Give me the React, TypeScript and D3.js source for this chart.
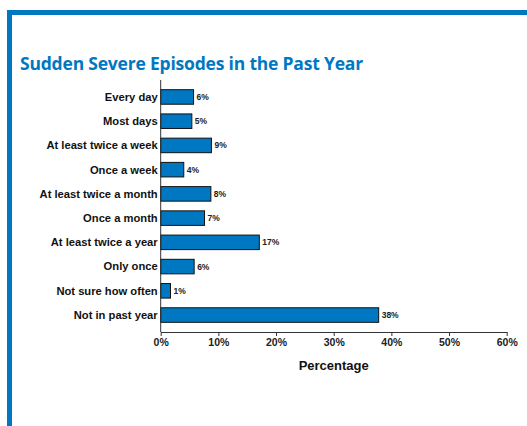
import React, { useEffect, useRef } from 'react';
import * as d3 from 'd3';

const categories = [
  'Every day',
  'Most days',
  'At least twice a week',
  'Once a week',
  'At least twice a month',
  'Once a month',
  'At least twice a year',
  'Only once',
  'Not sure how often',
  'Not in past year',
];
const values = [5.7, 5.4, 8.8, 4.0, 8.7, 7.6, 17.1, 5.8, 1.7, 37.8];
const valueLabels = ['6%', '5%', '9%', '4%', '8%', '7%', '17%', '6%', '1%', '38%'];
const xTicks = [0, 10, 20, 30, 40, 50, 60];

const W = 527;
const H = 426;
const BLUE = '#0078c1';

const App: React.FC = () => {
  const svgRef = useRef<SVGSVGElement>(null);

  useEffect(() => {
    if (!svgRef.current) return;
    const root = d3.select(svgRef.current);
    root.selectAll('*').remove();

    // frame
    root.append('rect').attr('x', 7).attr('y', 10).attr('width', W).attr('height', 5).attr('fill', BLUE);
    root.append('rect').attr('x', 7).attr('y', 10).attr('width', 5).attr('height', H).attr('fill', BLUE);

    root.append('text')
      .attr('x', 20)
      .attr('y', 70)
      .attr('fill', BLUE)
      .style('font-family', '"Open Sans", sans-serif')
      .style('font-weight', 'bold')
      .style('font-size', '17.5px')
      .style('letter-spacing', '-0.2px')
      .text('Sudden Severe Episodes in the Past Year');

    const margin = { top: 80, left: 160.7 };
    const x = d3.scaleLinear().domain([0, 60]).range([0, 346]);
    const y = d3.scaleBand().domain(categories).range([0, 252]).padding(0.4);

    const g = root.append('g').attr('transform', `translate(${margin.left},${margin.top})`);
    const font = 'Liberation Sans, Arial, sans-serif';

    g.selectAll('rect.bar')
      .data(values)
      .enter()
      .append('rect')
      .attr('class', 'bar')
      .attr('x', 0)
      .attr('y', (_, i) => y(categories[i]) as number)
      .attr('width', d => x(d))
      .attr('height', y.bandwidth())
      .attr('fill', BLUE)
      .attr('stroke', '#111')
      .attr('stroke-width', 1);

    g.selectAll('text.val')
      .data(values)
      .enter()
      .append('text')
      .attr('class', 'val')
      .attr('x', d => x(d) + 3)
      .attr('y', (_, i) => (y(categories[i]) as number) + y.bandwidth() / 2)
      .attr('dy', '0.35em')
      .style('font-family', font)
      .style('font-weight', 'bold')
      .style('font-size', '8.5px')
      .attr('fill', '#222')
      .text((_, i) => valueLabels[i]);

    g.selectAll('text.cat')
      .data(categories)
      .enter()
      .append('text')
      .attr('class', 'cat')
      .attr('x', -3)
      .attr('y', d => (y(d) as number) + y.bandwidth() / 2)
      .attr('dy', '0.35em')
      .attr('text-anchor', 'end')
      .style('font-family', font)
      .style('font-weight', 'bold')
      .style('font-size', '11.2px')
      .attr('fill', '#111')
      .text(d => d);

    // y axis line
    g.append('line').attr('x1', 0).attr('x2', 0).attr('y1', 0).attr('y2', 252).attr('stroke', '#333');

    const xAxis = g.append('g')
      .attr('transform', 'translate(0,252)')
      .call(d3.axisBottom(x).tickValues(xTicks).tickSize(4).tickSizeOuter(0).tickFormat(d => `${d}%`));
    xAxis.select('.domain').attr('stroke', '#333');
    xAxis.selectAll('.tick line').attr('stroke', '#333');
    xAxis.selectAll('.tick text')
      .attr('y', 7)
      .style('font-family', font)
      .style('font-weight', 'bold')
      .style('font-size', '10.5px')
      .attr('fill', '#222');

    g.append('text')
      .attr('x', x(30))
      .attr('y', 290)
      .attr('text-anchor', 'middle')
      .style('font-family', font)
      .style('font-weight', 'bold')
      .style('font-size', '13px')
      .attr('fill', '#111')
      .text('Percentage');
  }, []);

  return (
    <svg
      ref={svgRef}
      width={W}
      height={H}
      style={{ position: 'absolute', top: 0, left: 0, background: '#fff' }}
    />
  );
};

export default App;
